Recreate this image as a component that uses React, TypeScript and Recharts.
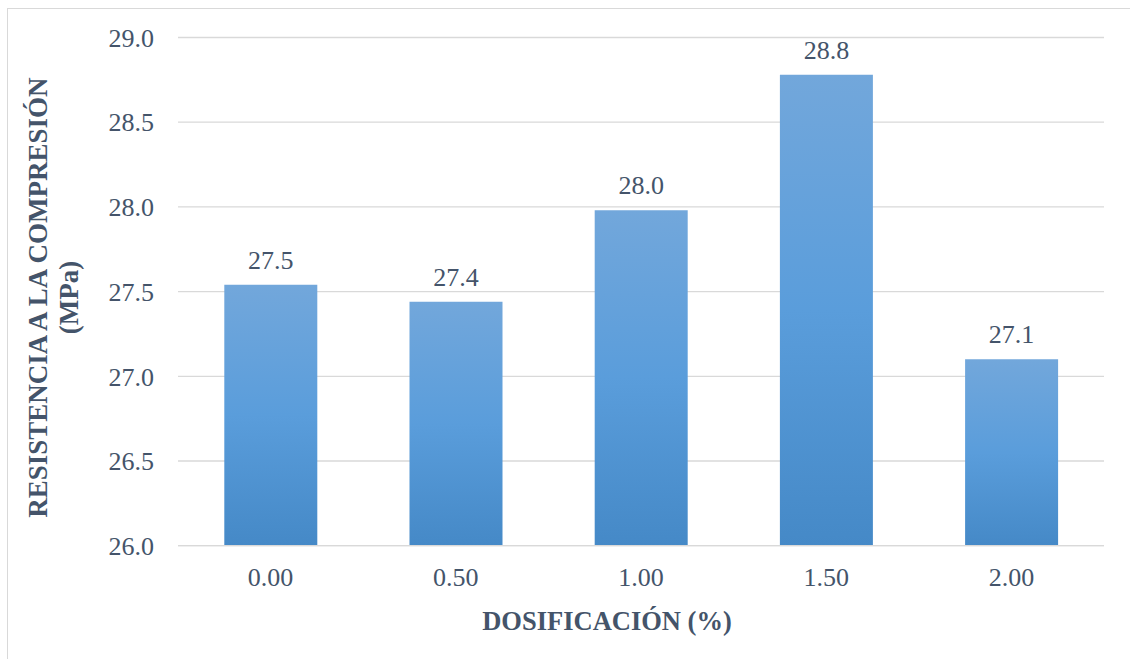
import React from "react";
import {
  BarChart,
  Bar,
  XAxis,
  YAxis,
  CartesianGrid,
  LabelList,
} from "recharts";

// Dosage categories (%) and compressive strength (MPa)
const dosages = ["0.00", "0.50", "1.00", "1.50", "2.00"];
const strengths = [27.54, 27.44, 27.98, 28.78, 27.1];
const yTicks = [26.0, 26.5, 27.0, 27.5, 28.0, 28.5, 29.0];
const yMin = 26;
const yMax = 29;

const xTitle = "DOSIFICACIÓN (%)";
const yTitleLines = ["RESISTENCIA A LA COMPRESIÓN", "(MPa)"];

const data = dosages.map((d, i) => ({ dosage: d, strength: strengths[i] }));

const TEXT = "#44546a";
const GRID = "#d9d9d9";
const FONT = "Liberation Serif, Times New Roman, serif";

const YTitle = (props: any) => {
  const vb = props.viewBox || { x: 0, y: 0, width: 0, height: 0 };
  const cy = vb.y + vb.height / 2 + 6;
  return (
    <g transform={`translate(47, ${cy}) rotate(-90)`}>
      <text
        textAnchor="middle"
        fill={TEXT}
        fontFamily={FONT}
        fontSize={27}
        fontWeight="bold"
      >
        <tspan x={0} y={0}>
          {yTitleLines[0]}
        </tspan>
        <tspan x={0} y={31}>
          {yTitleLines[1]}
        </tspan>
      </text>
    </g>
  );
};

const XTitle = () => (
  <text
    x={607}
    y={630}
    textAnchor="middle"
    fill={TEXT}
    fontFamily={FONT}
    fontSize={26.5}
    fontWeight="bold"
  >
    {xTitle}
  </text>
);

const XTick = (props: any) => {
  const { x, y, payload } = props;
  return (
    <text
      x={x}
      y={y}
      dy={18.5}
      textAnchor="middle"
      fill={TEXT}
      fontFamily={FONT}
      fontSize={26}
    >
      {payload.value}
    </text>
  );
};

const YTick = (props: any) => {
  const { x, y, payload } = props;
  return (
    <text
      x={x}
      y={y}
      dy={9.2}
      textAnchor="end"
      fill={TEXT}
      fontFamily={FONT}
      fontSize={26}
    >
      {Number(payload.value).toFixed(1)}
    </text>
  );
};

export default function App() {
  return (
    <div
      style={{
        position: "absolute",
        left: 0,
        top: 0,
        width: 1130,
        height: 659,
        overflow: "hidden",
        background: "#ffffff",
      }}
    >
      {/* shared bar gradient: light top, deeper bottom */}
      <svg width={0} height={0} style={{ position: "absolute" }}>
        <defs>
          <linearGradient id="barFill" x1="0" y1="0" x2="0" y2="1">
            <stop offset="0%" stopColor="#72a7db" />
            <stop offset="50%" stopColor="#5a9ddb" />
            <stop offset="100%" stopColor="#4589c7" />
          </linearGradient>
        </defs>
      </svg>
      <div
        style={{
          position: "absolute",
          left: 7,
          top: 8,
          width: 1200,
          height: 700,
          border: `1px solid ${GRID}`,
          boxSizing: "border-box",
        }}
      />
      <div style={{ position: "absolute", left: 0, top: 0 }}>
        <BarChart
          width={1130}
          height={659}
          data={data}
          margin={{ top: 37.5, right: 26, bottom: 53.3, left: 0 }}
          barCategoryGap="25%"
        >
          <CartesianGrid vertical={false} stroke={GRID} strokeWidth={1.3} />
          <XAxis
            dataKey="dosage"
            height={60}
            axisLine={{ stroke: GRID, strokeWidth: 1.3 }}
            tickLine={false}
            tickSize={0}
            tickMargin={22}
            tick={<XTick />}
            label={<XTitle />}
          />
          <YAxis
            width={178}
            domain={[yMin, yMax]}
            ticks={yTicks}
            interval={0}
            axisLine={false}
            tickLine={false}
            tickSize={0}
            tickMargin={24}
            tick={<YTick />}
            label={{ content: (p: any) => <YTitle {...p} /> }}
          />
          <Bar dataKey="strength" fill="url(#barFill)" isAnimationActive={false}>
            <LabelList
              dataKey="strength"
              position="top"
              offset={16}
              formatter={(v: any) => Number(v).toFixed(1)}
              fill={TEXT}
              fontFamily={FONT}
              fontSize={26}
            />
          </Bar>
        </BarChart>
      </div>
    </div>
  );
}
